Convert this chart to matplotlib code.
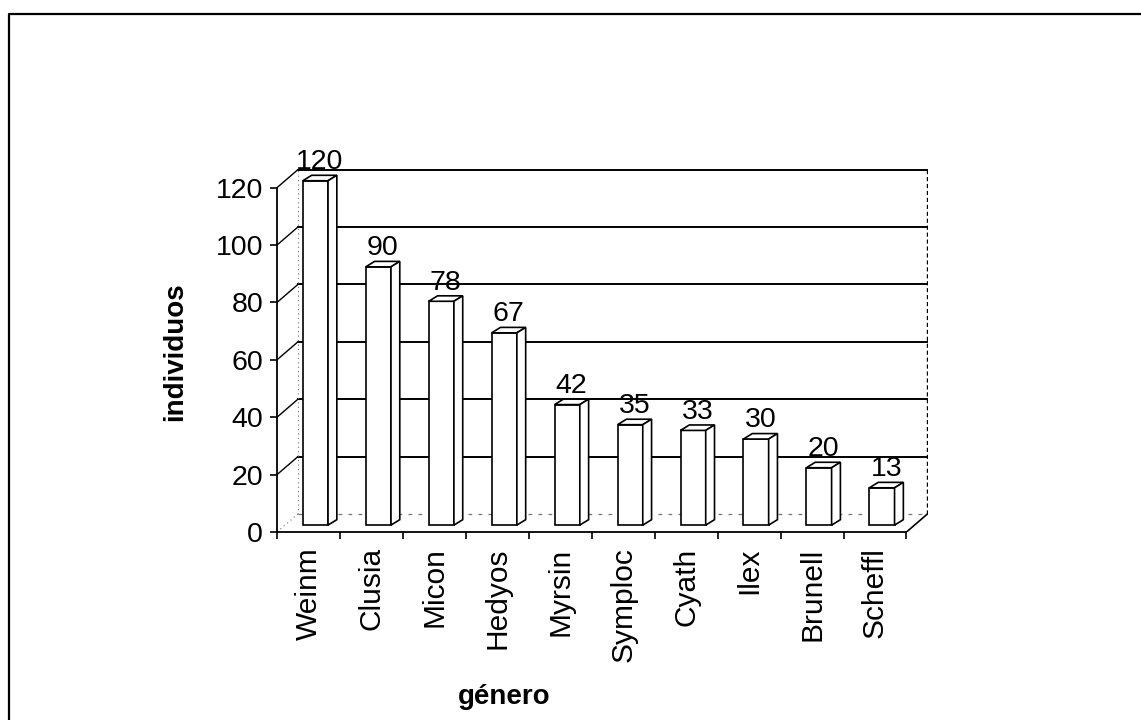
import matplotlib
matplotlib.use("Agg")
import matplotlib.pyplot as plt
from matplotlib.patches import Polygon
from matplotlib.lines import Line2D

# Individuos por género
generos = ['Weinm', 'Clusia', 'Micon', 'Hedyos', 'Myrsin',
           'Symploc', 'Cyath', 'Ilex', 'Brunell', 'Scheffl']
individuos = [120, 90, 78, 67, 42, 35, 33, 30, 20, 13]
yticks = [0, 20, 40, 60, 80, 100, 120]

plt.rcParams['font.family'] = ['Liberation Sans', 'DejaVu Sans']

fig = plt.figure(figsize=(11.41, 7.2), dpi=100)
ax = fig.add_axes([0.2428, 0.2611, 0.5706, 0.5042])

n = len(generos)
ymax = yticks[-1]

# fake 3D: depth of the floor/walls and of each bar (data units)
wall_dx, wall_dy = 0.333, 6.3
bar_dx, bar_dy = 0.11, 2.4
side_dx, side_dy = 0.14, 1.9
bar_w = 0.40

ax.set_xlim(0, n + wall_dx + 0.01)
ax.set_ylim(0, ymax + wall_dy + 0.2)

# back wall gridlines + side wall connectors
for v in yticks[1:]:
    ax.plot([wall_dx, n + wall_dx], [v + wall_dy] * 2, color='k', lw=1.4, zorder=1)
    ax.plot([0, wall_dx], [v, v + wall_dy], color='k', lw=1.0, zorder=1)

# wall / floor edges
ax.plot([wall_dx] * 2, [wall_dy, ymax + wall_dy], color='0.45', lw=0.8,
        ls=(0, (1, 3)), zorder=1)
ax.plot([n + wall_dx] * 2, [wall_dy, ymax + wall_dy], color='k', lw=1.0,
        ls=(0, (3, 2)), zorder=1)
ax.plot([wall_dx, n + wall_dx], [wall_dy] * 2, color='0.45', lw=0.9,
        ls=(0, (3, 5)), zorder=1)
ax.plot([0, wall_dx], [0, wall_dy], color='0.45', lw=0.8, ls=(0, (1, 3)), zorder=1)
ax.plot([n, n + wall_dx], [0, wall_dy], color='k', lw=1.2, zorder=1)

# bars: front face, top and side
for i, v in enumerate(individuos):
    xc = i + 0.5 + bar_dx
    ax.bar(xc, v, bottom=bar_dy, width=bar_w, facecolor='white',
           edgecolor='k', lw=1.2, zorder=3)
    x0 = xc - bar_w / 2
    x1 = xc + bar_w / 2
    top = [(x0, v + bar_dy), (x1, v + bar_dy),
           (x1 + side_dx, v + bar_dy + side_dy), (x0 + side_dx, v + bar_dy + side_dy)]
    side = [(x1, bar_dy), (x1 + side_dx, bar_dy + side_dy),
            (x1 + side_dx, v + bar_dy + side_dy), (x1, v + bar_dy)]
    for pts in (top, side):
        ax.add_patch(Polygon(pts, closed=True, facecolor='white',
                             edgecolor='k', lw=1.2, zorder=3))
    ax.text(xc + side_dx / 2, v + bar_dy + side_dy + 2.2, str(v),
            ha='center', va='baseline', fontsize=20.5, zorder=4)

# axes
for s in ['top', 'right']:
    ax.spines[s].set_visible(False)
ax.spines['left'].set_bounds(0, ymax)
ax.spines['bottom'].set_bounds(0, n)
ax.spines['left'].set_linewidth(1.3)
ax.spines['bottom'].set_linewidth(1.3)

ax.set_yticks(yticks)
ax.tick_params(axis='y', length=5, width=1.2, pad=5, labelsize=20.5)
ax.set_xticks([i + 0.5 for i in range(n)], generos, rotation=90, fontsize=21.5)
ax.set_xticks(range(n + 1), minor=True)
ax.tick_params(axis='x', which='major', length=0, pad=11)
ax.tick_params(axis='x', which='minor', length=5, width=1.2)

fig.text(175 / 1141, 1 - 352 / 720, 'individuos', rotation=90, ha='center',
         va='center', fontsize=20, fontweight='bold')
fig.text(504 / 1141, 1 - 697 / 720, 'género', ha='center', va='center',
         fontsize=20, fontweight='bold')

# frame of the chart (top and left edges visible in the scan)
fig.add_artist(Line2D([0.0079, 0.0079, 1.0], [0.0, 0.9806, 0.9806],
                      transform=fig.transFigure, color='k', lw=1.6))

fig.savefig('out.png', dpi=100)
